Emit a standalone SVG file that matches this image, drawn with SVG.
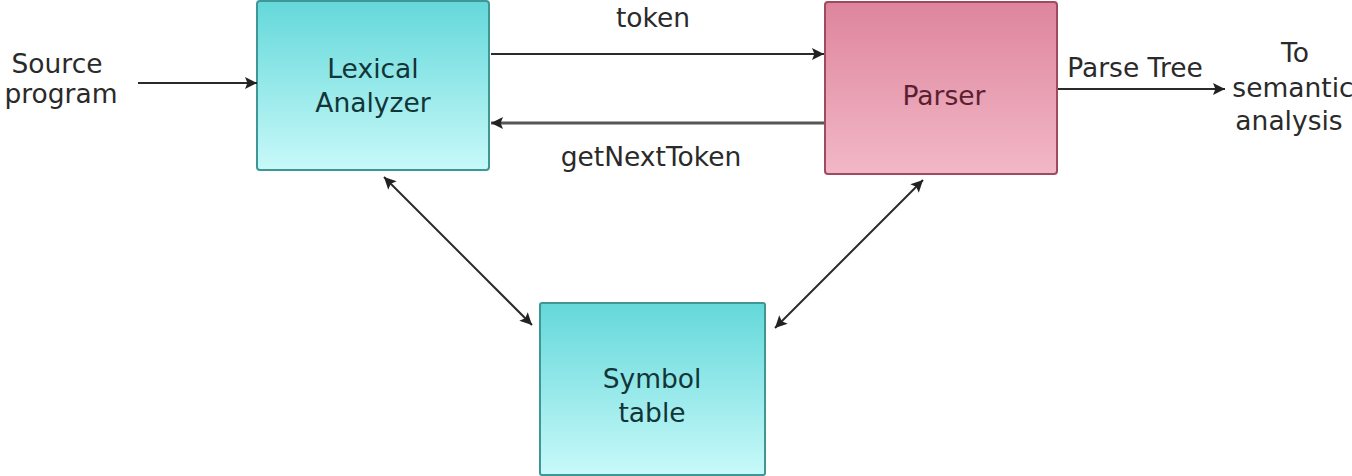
<svg xmlns="http://www.w3.org/2000/svg" width="1352" height="476" viewBox="0 0 1352 476">
<defs>
<linearGradient id="cyan" x1="0" y1="0" x2="0" y2="1">
<stop offset="0" stop-color="#64d8da"/>
<stop offset="1" stop-color="#c8f9f9"/>
</linearGradient>
<linearGradient id="pink" x1="0" y1="0" x2="0" y2="1">
<stop offset="0" stop-color="#de859d"/>
<stop offset="1" stop-color="#f2b8c7"/>
</linearGradient>
<marker id="ah2" viewBox="0 0 10 10" refX="10" refY="5" markerWidth="15" markerHeight="12" markerUnits="userSpaceOnUse" orient="auto-start-reverse">
<path d="M0,0 L10,5 L0,10 L2,5 Z" fill="#222"/>
</marker>
</defs>
<style>
text{font-family:"DejaVu Sans","Verdana",sans-serif;font-size:26.5px;text-anchor:middle}
.c{fill:url(#cyan);stroke:#3f9696;stroke-width:2}
.p{fill:url(#pink);stroke:#9e4a60;stroke-width:2}
.tc{fill:#123537}
.tp{fill:#5a2030}
.to{fill:#2a2a2a}
.ln{stroke:#2a2a2a;stroke-width:2;fill:none;marker-end:url(#ah2)}
.bi{stroke:#2a2a2a;stroke-width:2;fill:none;marker-end:url(#ah2);marker-start:url(#ah2)}
</style>
<rect width="1352" height="476" fill="#ffffff"/>
<g id="source">
<text class="to" x="57" y="73">Source</text>
<text class="to" x="61" y="103">program</text>
</g>
<g id="lexical">
<rect class="c" x="257" y="1" width="232" height="169" rx="3"/>
<text class="tc" x="373" y="78">Lexical</text>
<text class="tc" x="373" y="112">Analyzer</text>
</g>
<g id="parser">
<rect class="p" x="825" y="2" width="232" height="172" rx="3"/>
<text class="tp" x="944" y="105">Parser</text>
</g>
<g id="symbol">
<rect class="c" x="540" y="303" width="225" height="172" rx="2"/>
<text class="tc" x="652" y="388">Symbol</text>
<text class="tc" x="652" y="422">table</text>
</g>
<g id="semantic">
<text class="to" x="1295" y="62">To</text>
<text class="to" x="1293" y="97">semantic</text>
<text class="to" x="1289" y="130">analysis</text>
</g>
<g id="connectors">
<line class="ln" x1="138" y1="83" x2="257" y2="83"/>
<line class="ln" x1="491" y1="54" x2="824" y2="54"/>
<text class="to" x="653" y="27">token</text>
<line class="ln" x1="824" y1="123" x2="491" y2="123" style="stroke:#555;stroke-width:3"/>
<text class="to" x="651" y="166">getNextToken</text>
<line class="ln" x1="1058" y1="89" x2="1225" y2="89"/>
<text class="to" x="1135" y="77">Parse Tree</text>
<line class="bi" x1="384" y1="177" x2="532" y2="325"/>
<line class="bi" x1="923" y1="180" x2="775" y2="328"/>
</g>
</svg>
